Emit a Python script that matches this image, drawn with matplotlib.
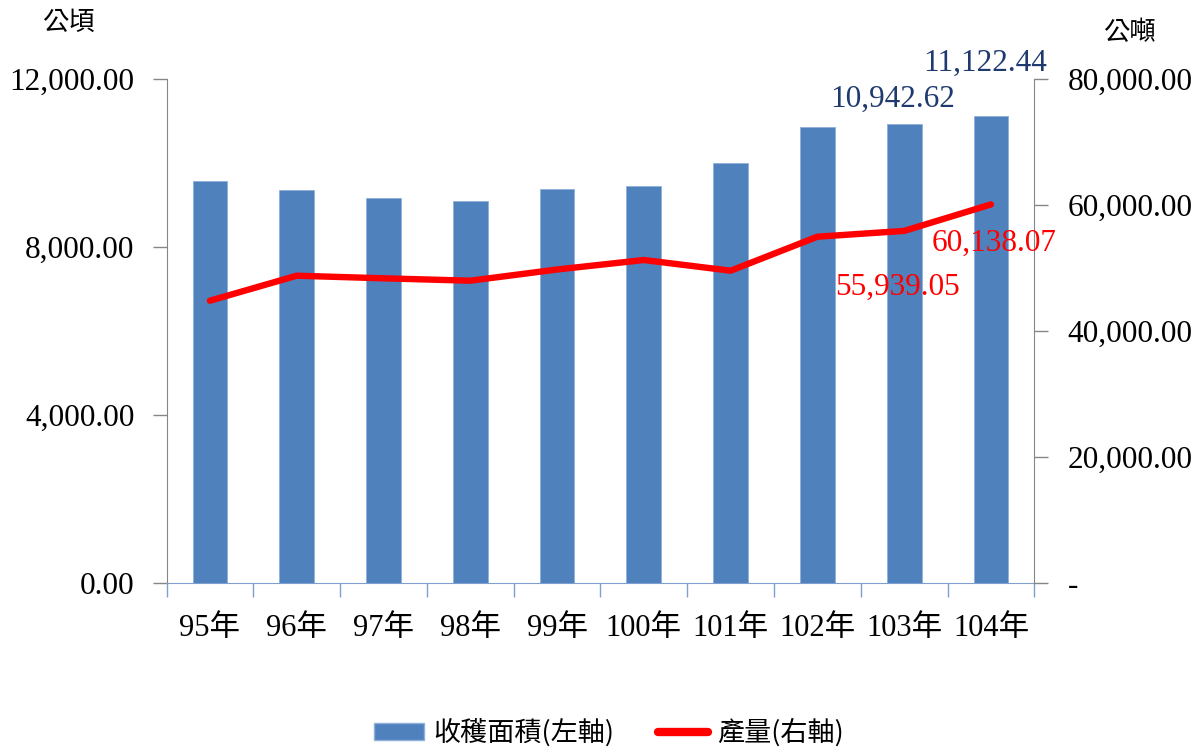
import numpy as np
import matplotlib.pyplot as plt
from matplotlib.ticker import FuncFormatter, FixedLocator
from matplotlib.patches import Patch
from matplotlib.lines import Line2D

plt.rcParams['font.family'] = ['Liberation Serif', 'Noto Sans CJK TC']

# data
years = ['95年', '96年', '97年', '98年', '99年', '100年', '101年', '102年', '103年', '104年']
area = [9571, 9357, 9174, 9110, 9381, 9452, 10000, 10857, 10942.62, 11122.44]
output = [44857, 48825, 48413, 48032, 49810, 51317, 49619, 55016, 55939.05, 60138.07]

bar_color = '#4F81BD'
line_color = '#FF0000'
navy = '#1F3A6E'
gray = '#868686'
axis_blue = '#7E9FCF'

fig = plt.figure(figsize=(12.04, 7.51), dpi=100)
ax = fig.add_axes([0.1383, 0.2233, 0.7208, 0.6711])
ax2 = ax.twinx()

x = np.arange(len(years))
ax.bar(x, area, width=0.40, color=bar_color, edgecolor='#8FB0DA', linewidth=0.6, zorder=2)
ax2.plot(x, output, color=line_color, linewidth=4.6, solid_capstyle='round',
         solid_joinstyle='round', zorder=3)

ax.set_xlim(-0.5, len(years) - 0.5)
ax.set_ylim(0, 12000)
ax2.set_ylim(0, 80000)

ax.set_yticks([0, 4000, 8000, 12000])
ax2.set_yticks([0, 20000, 40000, 60000, 80000])
ax.yaxis.set_major_formatter(FuncFormatter(lambda v, p: f'{v:,.2f}'))
ax2.yaxis.set_major_formatter(FuncFormatter(lambda v, p: '-' if v == 0 else f'{v:,.2f}'))

ax.set_xticks(x)
ax.set_xticklabels(years)
ax.xaxis.set_minor_locator(FixedLocator(np.arange(-0.5, len(years), 1.0)))
ax.tick_params(axis='x', which='major', length=0, pad=22, labelsize=22)
ax.tick_params(axis='x', which='minor', length=10, width=1, color=axis_blue, direction='out')
ax.tick_params(axis='y', length=10, width=1, color=gray, pad=13, labelsize=22.5)
ax2.tick_params(axis='y', length=10, width=1, color=gray, pad=14, labelsize=22.5)

for a in (ax, ax2):
    a.spines['top'].set_visible(False)
    a.spines['left'].set_color(gray)
    a.spines['right'].set_color(gray)
    a.spines['bottom'].set_color(axis_blue)
ax.spines['right'].set_visible(False)
ax2.spines['left'].set_visible(False)
ax2.spines['bottom'].set_visible(False)

# data labels
ax.annotate('10,942.62', (x[8], area[8]), xytext=(-11, 24), textcoords='offset pixels',
            ha='center', va='center', color=navy, fontsize=22.5)
ax.annotate('11,122.44', (x[9], area[9]), xytext=(-6, 53), textcoords='offset pixels',
            ha='center', va='center', color=navy, fontsize=22.5)
ax2.annotate('55,939.05', (x[8], output[8]), xytext=(-7, -56), textcoords='offset pixels',
             ha='center', va='center', color=line_color, fontsize=22.5)
ax2.annotate('60,138.07', (x[9], output[9]), xytext=(3, -39), textcoords='offset pixels',
             ha='center', va='center', color=line_color, fontsize=22.5)

# unit labels
fig.text(68 / 1204, 1 - 22 / 751, '公頃', ha='center', va='center', fontsize=19,
         family='Noto Sans CJK TC')
fig.text(1129 / 1204, 1 - 33 / 751, '公噸', ha='center', va='center', fontsize=19,
         family='Noto Sans CJK TC')

handles = [Patch(facecolor=bar_color, edgecolor='#8FB0DA'),
           Line2D([0], [0], color=line_color, linewidth=6, solid_capstyle='round')]
fig.legend(handles, ['收穫面積(左軸)', '產量(右軸)'], loc='center',
           bbox_to_anchor=(0.506, 0.024), ncol=2, frameon=False,
           prop={'family': 'Noto Sans CJK TC', 'size': 19.5},
           handlelength=1.85, handleheight=0.6, handletextpad=0.35, columnspacing=1.6)

fig.savefig('out.png', dpi=100)
